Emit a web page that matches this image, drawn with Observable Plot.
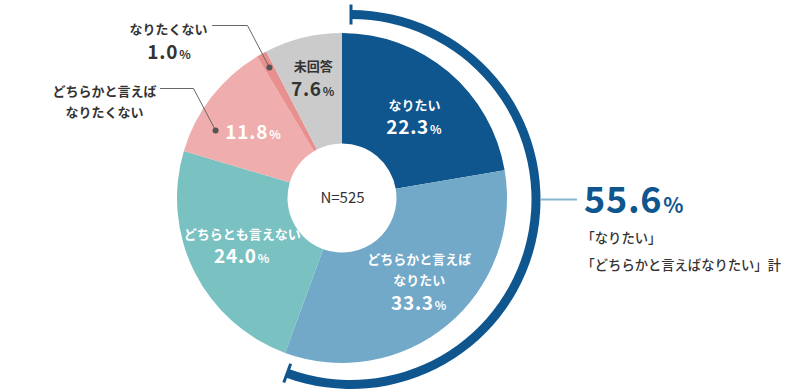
<!DOCTYPE html>
<html><head><meta charset="utf-8">
<script src="https://cdn.jsdelivr.net/npm/d3@7"></script>
<script src="https://cdn.jsdelivr.net/npm/@observablehq/plot@0.6"></script>
<style>
body{margin:0;background:#fff;}
#chart{width:790px;height:392px;}
svg{font-family:"Noto Sans CJK JP","Noto Sans",sans-serif;}
</style></head><body><div id="chart"></div>
<script>
// ---- data ----
const categories = ["なりたい", "どちらかと言えば\nなりたい", "どちらとも言えない", "どちらかと言えば\nなりたくない", "なりたくない", "未回答"];
const values = [22.3, 33.3, 24.0, 11.8, 1.0, 7.6];
const sampleSize = 525;
const groupedCount = 2;          // first two categories summed by the outer ring
const groupedLabel = ["「なりたい」", "「どちらかと言えばなりたい」計"];

// ---- style / layout ----
const colors = ["#0f558e", "#72a8c8", "#7ac1c2", "#f0adad", "#e8908f", "#cbcbcb"];
const textColors = ["#fff", "#fff", "#fff", "#fff", "#333", "#333"];
const DARK = "#0f558e";
const W = 790, H = 392, CX = 342, CY = 198, U = 165; // px per unit (outer radius)
const HOLE = 54.5 / U;
// label layout in px relative to centre (y down)
const inner = {
  0: {r: 110, dx: 1, cat: -11, val: 13},
  1: {r: 112, dx: 5, cat: -16.5, val: 19},
  2: {r: 110, dx: -2, cat: -15, val: 9},
  3: {r: 110, dx: -2, cat: null, val: 1.5},
  5: {r: 124, dx: 0, cat: -13.5, val: 12}
};
const outside = {
  4: {dotR: 150, frac: 0.5, elbow: [-95, -173], end: [-130, -173], cat: [-174, -171.5], val: [-173, -146], showVal: true},
  3: {dotR: 144, frac: 0.274, elbow: [-149, -110], end: [-182, -110], cat: [-238, -99], showVal: false}
};
const ring = {dx: 9, dy: 1.5, r: 185, w: 9, cap: 20};

// ---- derived ----
const total = d3.sum(values);
let acc = 0;
const slices = values.map((v, i) => {
  const a0 = acc / total * 2 * Math.PI; acc += v;
  const a1 = acc / total * 2 * Math.PI;
  return {i, label: categories[i], value: v, a0, a1, mid: (a0 + a1) / 2};
});
const groupedValue = d3.sum(values.slice(0, groupedCount));
const px = (dx, dy) => ({x: dx / U, y: -dy / U});
const polarPx = (r, a) => [r * Math.sin(a), -r * Math.cos(a)];

const catLabels = [], valLabels = [], leaderPts = [], dots = [];
slices.forEach(s => {
  const L = inner[s.i];
  if (L) {
    const [bx, by] = polarPx(L.r, s.mid);
    if (L.cat !== null) catLabels.push({...px(bx + L.dx, by + L.cat), text: s.label, fill: textColors[s.i]});
    valLabels.push({...px(bx + L.dx, by + L.val), value: s.value, fill: textColors[s.i], size: 19, pct: 12});
  }
  const O = outside[s.i];
  if (O) {
    const [dx, dy] = polarPx(O.dotR, s.a0 + O.frac * (s.a1 - s.a0));
    dots.push(px(dx, dy));
    [[dx, dy], O.elbow, O.end].forEach(p => leaderPts.push({...px(p[0], p[1]), id: s.i}));
    catLabels.push({...px(O.cat[0], O.cat[1]), text: s.label, fill: "#333"});
    if (O.showVal) valLabels.push({...px(O.val[0], O.val[1]), value: s.value, fill: "#333", size: 19, pct: 12});
  }
});

function pieMark(index, scales) {
  const {x, y} = scales;
  const ox = x(0), oy = y(0), k = x(1) - x(0);
  const g = d3.create("svg:g");
  const arc = d3.arc();
  const gp = g.append("g").attr("transform", `translate(${ox},${oy})`);
  slices.forEach(s => {
    gp.append("path")
      .attr("d", arc({innerRadius: HOLE * k, outerRadius: k, startAngle: s.a0, endAngle: s.a1}))
      .attr("fill", colors[s.i]);
  });
  // outer ring for grouped total
  const rx = ox + ring.dx, ry = oy + ring.dy;
  const aEnd = slices[groupedCount - 1].a1;
  const gr = g.append("g").attr("transform", `translate(${rx},${ry})`);
  gr.append("path")
    .attr("d", arc({innerRadius: ring.r - ring.w / 2, outerRadius: ring.r + ring.w / 2, startAngle: 0, endAngle: aEnd}))
    .attr("fill", DARK);
  [0, aEnd].forEach(a => {
    const [x1, y1] = polarPx(ring.r - ring.cap / 2, a), [x2, y2] = polarPx(ring.r + ring.cap / 2, a);
    gr.append("line").attr("x1", x1).attr("y1", y1).attr("x2", x2).attr("y2", y2)
      .attr("stroke", DARK).attr("stroke-width", 3);
  });
  // connector to total label
  gr.append("line").attr("x1", ring.r + ring.w / 2).attr("x2", 577 - rx).attr("y1", 0).attr("y2", 0)
    .attr("stroke", "#8ab3cf").attr("stroke-width", 2);
  return g.node();
}

function valueMark(index, scales) {
  const {x, y} = scales;
  const g = d3.create("svg:g").attr("font-weight", "bold");
  valLabels.forEach(d => {
    const t = g.append("text").attr("x", x(d.x)).attr("y", y(d.y) + 0.36 * d.size)
      .attr("text-anchor", "middle").attr("fill", d.fill);
    t.append("tspan").attr("font-size", d.size).attr("letter-spacing", "0.04em").text(d.value.toFixed(1));
    t.append("tspan").attr("font-size", d.pct).attr("dx", 1).text("%");
  });
  // grouped total
  const gx = x(242 / U), gy = y(-2 / U);
  const t = g.append("text").attr("x", gx).attr("y", gy + 0.36 * 36).attr("fill", DARK).attr("text-anchor", "start");
  t.append("tspan").attr("font-size", 36).attr("letter-spacing", "0.02em").text(groupedValue.toFixed(1));
  t.append("tspan").attr("font-size", 21).attr("dx", 1).text("%");
  return g.node();
}

const rightLines = groupedLabel.map((t, i) => ({...px(239, 40 + i * 27), text: t}));

const chart = Plot.plot({
  width: W, height: H, margin: 0,
  x: {domain: [-CX / U, (W - CX) / U], axis: null},
  y: {domain: [-(H - CY) / U, CY / U], axis: null},
  style: {background: "#fff", fontFamily: '"Noto Sans CJK JP","Noto Sans",sans-serif'},
  marks: [
    pieMark,
    Plot.line(leaderPts, {x: "x", y: "y", z: "id", stroke: "#666", strokeWidth: 1}),
    Plot.dot(dots, {x: "x", y: "y", r: 3, fill: "#555", stroke: null}),
    Plot.text(catLabels, {x: "x", y: "y", text: "text", fill: "fill", fontSize: 13, fontWeight: "bold", lineHeight: 1.6}),
    valueMark,
    Plot.text([{x: 0, y: 0, text: `N=${sampleSize}`}], {x: "x", y: "y", text: "text", fill: "#333", fontSize: 15}),
    Plot.text(rightLines, {x: "x", y: "y", text: "text", fill: "#333", fontSize: 13.3, fontWeight: 500, textAnchor: "start"})
  ]
});
document.getElementById("chart").append(chart);
</script></body></html>
